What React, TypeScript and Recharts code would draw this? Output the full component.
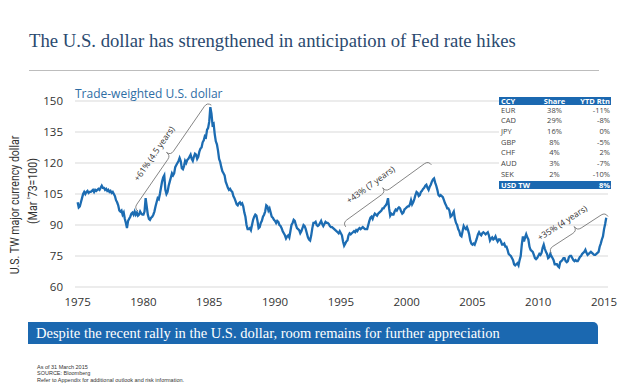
import { LineChart, Line, XAxis, YAxis, CartesianGrid, ReferenceLine } from "recharts";

// Trade-weighted U.S. dollar (major currencies, Mar '73 = 100), monthly from Jan 1975
const startYear = 1975;

const index1975to1984 = [
  101, 98.5, 99, 101, 103, 105, 106, 105, 106, 106.5, 105.5, 106,
  106, 106.5, 107, 106, 107, 106.5, 107, 107.5, 107, 108, 109, 108,
  108, 107, 107.5, 106.5, 107, 106, 106.5, 105.5, 106, 105, 104, 102,
  101, 99.5, 97, 96.5, 97, 95, 96, 93, 91, 88.5, 92, 93,
  94, 95.5, 96, 95, 96.5, 95, 96, 94.5, 95, 96.5, 95.5, 95,
  95, 96.5, 103, 99, 95, 93, 92.5, 93.5, 94, 95, 96.5, 99,
  101, 103, 102.5, 105, 108, 111, 113, 114, 107, 105, 106, 109,
  111, 113, 115, 114, 115, 118, 119, 120, 121, 122.5, 121, 117.5,
  117, 118.5, 121, 120, 121.5, 122, 123, 124, 122, 121, 123, 124.5,
  124, 122, 123, 125.5, 127, 127.5, 130, 131, 133, 132.5, 136, 137,
];

const index1985to1994 = [
  140, 147, 144, 138.5, 139, 134, 130.5, 129, 126, 122, 120.5, 118,
  116, 115, 114, 111, 109.5, 108, 107, 107.5, 106.5, 106, 104, 103,
  101.5, 100, 99.5, 100.5, 101, 100, 100.5, 99, 96, 94, 90, 88,
  88, 88.5, 87.5, 90, 92.5, 94, 95, 94.5, 92, 88.5, 89, 91,
  92, 94, 95, 96.5, 99.5, 99, 97, 98, 96, 94, 93.5, 92.5,
  92, 91, 92, 91.5, 90, 89.5, 88.5, 87, 86, 85, 83.5, 84.5,
  85, 84, 87, 90, 91, 92.5, 92, 90, 88.5, 88, 87.5, 86,
  87, 88.5, 90, 89.5, 88, 86, 84, 83, 82.5, 85, 88.5, 91,
  91, 91.5, 90, 89.5, 90, 91, 92, 90.5, 89.5, 90.5, 91.5, 91,
  91, 90.5, 89.5, 89, 89, 88.5, 88, 87.5, 87, 86.5, 86, 87,
];

const index1995to2004 = [
  86, 85, 82, 80, 81, 82, 82.5, 85, 86, 85.5, 86, 86.5,
  87, 86.5, 87.5, 87, 88, 88.5, 88, 88.5, 89, 88.5, 88, 88,
  88, 90, 92, 93.5, 94, 93, 94.5, 95.5, 95, 94.5, 95.5, 96,
  96.5, 97, 98, 98, 99, 99.5, 100.5, 103, 98, 94.5, 95.5, 95,
  95, 96.5, 97.5, 97, 98, 98.5, 98, 96.5, 95.5, 96, 97.5, 98,
  98.5, 99, 99, 100, 102, 100, 101, 102.5, 104.5, 106, 105.5, 104,
  104.5, 106, 106.5, 107.5, 108, 109, 109.5, 108, 107, 108.5, 109.5, 111,
  112, 112.5, 110.5, 109, 107, 104.5, 104, 104.5, 104, 103.5, 102, 100.5,
  99.5, 98, 98, 97, 94, 94.5, 95.5, 96.5, 93, 91, 90, 88,
  87, 85, 84.5, 87, 89.5, 88.5, 88, 89, 87.5, 85.5, 82.5, 81,
];

const index2005to2015 = [
  80.5, 81, 80.5, 82, 83.5, 85.5, 86.5, 85.5, 85, 86, 86.5, 86,
  85.5, 86, 86.5, 85, 82.5, 83.5, 84, 83, 83.5, 84.5, 83, 82,
  83, 83, 82, 80.5, 80.5, 81, 79.5, 79.5, 78, 76, 75.5, 75,
  74, 73, 71, 70.5, 71, 71.5, 70.5, 73, 75, 80.5, 84.5, 82,
  84, 85.5, 84, 83, 79.5, 78, 77.5, 77, 75.5, 74, 73.5, 74,
  75, 76, 75.5, 76.5, 79, 80.5, 78.5, 77, 76, 74, 74.5, 76,
  75, 74, 73, 71, 71, 71, 70, 69.5, 72, 72.5, 73, 74,
  74, 72.5, 72, 72.5, 74.5, 75, 75, 74, 73, 72.5, 73, 72.5,
  72.5, 73.5, 74.5, 75, 76, 76.5, 77, 78, 76.5, 75.5, 76, 76.5,
  77, 76.5, 76, 75.5, 75.5, 76, 76.5, 77, 79.5, 81, 83, 84.5,
  88, 90.5, 93.5,
];

const yearTicks = [1975, 1980, 1985, 1990, 1995, 2000, 2005, 2010, 2015];
const valueTicks = [60, 75, 90, 105, 120, 135, 150];

// rally annotations: [year, index] at each end of the brace
const braceStarts = [[1979.6, 96.7], [1995.37, 89.1], [2011.0, 76.3]];
const braceEnds = [[1985.16, 148], [2001.88, 119.1], [2015.3, 94.1]];
const braceLabels = ["+61% (4.5 years)", "+43% (7 years)", "+35% (4 years)"];

const tableCurrencies = ["EUR", "CAD", "JPY", "GBP", "CHF", "AUD", "SEK"];
const tableShares = ["38%", "29%", "16%", "8%", "4%", "3%", "2%"];
const tableYtd = ["-11%", "-8%", "0%", "-5%", "2%", "-7%", "-10%"];
const usdTwYtd = "8%";

const chartData = [...index1975to1984, ...index1985to1994, ...index1995to2004, ...index2005to2015].map(
  (v, i) => ({ year: startYear + i / 12, value: v })
);

const blue = "#1b68b0";
const sans = "'Open Sans', 'Noto Sans', sans-serif";
const serif = "'Liberation Serif', 'DejaVu Serif', serif";

function Brace(props: any) {
  const { x1, y1, x2, y2, text } = props;
  const dx = x2 - x1;
  const dy = y2 - y1;
  const len = Math.hypot(dx, dy);
  const ux = dx / len;
  const uy = dy / len;
  const nx = uy;
  const ny = -ux;
  const h = 5;
  const tip = 5;
  const m = len / 2;
  const pt = (a: number, c: number) => `${x1 + ux * a + nx * c},${y1 + uy * a + ny * c}`;
  const d =
    `M${pt(0, 0)} Q${pt(0, h)} ${pt(h, h)} L${pt(m - h, h)} Q${pt(m, h)} ${pt(m, h + tip)} ` +
    `Q${pt(m, h)} ${pt(m + h, h)} L${pt(len - h, h)} Q${pt(len, h)} ${pt(len, 0)}`;
  const angle = (Math.atan2(uy, ux) * 180) / Math.PI;
  const lx = x1 + ux * (m - 8) + nx * 20;
  const ly = y1 + uy * (m - 8) + ny * 20;
  return (
    <g>
      <path d={d} fill="none" stroke="#666" strokeWidth={0.8} />
      <text
        x={lx}
        y={ly}
        transform={`rotate(${angle} ${lx} ${ly})`}
        textAnchor="middle"
        dominantBaseline="central"
        fontSize={8.5}
        fontFamily={sans}
        fill="#333"
      >
        {text}
      </text>
    </g>
  );
}

function CurrencyTable() {
  const cell = { fontSize: 7.5, lineHeight: "10.7px", height: 10.7 };
  return (
    <div style={{ position: "absolute", left: 499, top: 96.5, width: 112, background: "#fff", fontFamily: sans }}>
      <div style={{ display: "flex", background: blue, color: "#fff", fontWeight: 700, fontSize: 7.5, height: 8, lineHeight: "8px" }}>
        <div style={{ width: 36, paddingLeft: 2 }}>CCY</div>
        <div style={{ width: 36, textAlign: "center" }}>Share</div>
        <div style={{ width: 38, textAlign: "right", paddingRight: 1 }}>YTD Rtn</div>
      </div>
      {tableCurrencies.map((c, i) => (
        <div key={c} style={{ display: "flex", color: "#444", ...cell }}>
          <div style={{ width: 36, paddingLeft: 2 }}>{c}</div>
          <div style={{ width: 36, textAlign: "center" }}>{tableShares[i]}</div>
          <div style={{ width: 38, textAlign: "right", paddingRight: 1 }}>{tableYtd[i]}</div>
        </div>
      ))}
      <div style={{ display: "flex", marginTop: 1.5, background: blue, color: "#fff", fontWeight: 700, fontSize: 7.5, height: 8, lineHeight: "8px" }}>
        <div style={{ width: 72, paddingLeft: 2 }}>USD TW</div>
        <div style={{ width: 38, textAlign: "right", paddingRight: 1 }}>{usdTwYtd}</div>
      </div>
    </div>
  );
}

export default function App() {
  return (
    <div style={{ position: "absolute", left: 0, top: 0, width: 628, height: 389, background: "#fff", overflow: "hidden" }}>
      <div style={{ position: "absolute", left: 29, top: 30, fontFamily: serif, fontSize: 18.7, lineHeight: "22px", color: "#2b4a6f", whiteSpace: "nowrap" }}>
        The U.S. dollar has strengthened in anticipation of Fed rate hikes
      </div>
      <div style={{ position: "absolute", left: 29, top: 70, width: 570, height: 1, background: "#bdbdbd" }} />

      <LineChart
        width={628}
        height={389}
        data={chartData}
        margin={{ top: 101, right: 20, bottom: 72, left: 0 }}
        style={{ position: "absolute", left: 0, top: 0 }}
      >
        <CartesianGrid vertical={false} stroke="#d9d9d9" strokeWidth={1.2} />
        <XAxis
          dataKey="year"
          type="number"
          domain={[1974.8, 2015.3]}
          ticks={yearTicks}
          interval={0}
          axisLine={false}
          tickLine={false}
          tickSize={0}
          tickMargin={11}
          height={30}
          tick={{ fill: "#333", fontSize: 11.5, fontFamily: sans }}
        />
        <YAxis
          domain={[60, 150]}
          ticks={valueTicks}
          interval={0}
          width={75}
          axisLine={false}
          tickLine={false}
          tickSize={0}
          tickMargin={12}
          tick={{ fill: "#333", fontSize: 11.5, fontFamily: sans }}
        />
        <Line
          type="linear"
          dataKey="value"
          stroke="#1c6cb2"
          strokeWidth={2.3}
          dot={false}
          isAnimationActive={false}
        />
        {braceLabels.map((label, i) => (
          <ReferenceLine
            key={label}
            segment={[
              { x: braceStarts[i][0], y: braceStarts[i][1] },
              { x: braceEnds[i][0], y: braceEnds[i][1] },
            ]}
            ifOverflow="visible"
            shape={(p: any) => <Brace {...p} text={label} />}
          />
        ))}
      </LineChart>

      <div style={{ position: "absolute", left: 75, top: 87, fontFamily: sans, fontSize: 12, lineHeight: "14px", color: "#2e6da4", whiteSpace: "nowrap" }}>
        Trade-weighted U.S. dollar
      </div>

      <div
        style={{
          position: "absolute", left: 15, top: 205, fontFamily: "Roboto, sans-serif", fontSize: 12, color: "#333",
          whiteSpace: "nowrap", transform: "translate(-50%, -50%) rotate(-90deg) scaleX(0.88)",
        }}
      >
        U.S. TW major currency dollar
      </div>
      <div
        style={{
          position: "absolute", left: 33, top: 191, fontFamily: "Roboto, sans-serif", fontSize: 12, color: "#333",
          whiteSpace: "nowrap", transform: "translate(-50%, -50%) rotate(-90deg) scaleX(0.88)",
        }}
      >
        (Mar '73=100)
      </div>

      <CurrencyTable />

      <div
        style={{
          position: "absolute", left: 28, top: 321.5, width: 570, height: 22, background: blue,
          borderTopRightRadius: 5, color: "#fff", fontFamily: serif, fontSize: 14.5, lineHeight: "22px",
          paddingLeft: 8, boxSizing: "border-box", whiteSpace: "nowrap",
        }}
      >
        Despite the recent rally in the U.S. dollar, room remains for further appreciation
      </div>

      <div style={{ position: "absolute", left: 37, top: 363.5, fontFamily: "'Liberation Sans', Arial, sans-serif", fontSize: 5.5, lineHeight: "6.6px", color: "#333" }}>
        <div>As of 31 March 2015</div>
        <div>SOURCE: Bloomberg</div>
        <div>Refer to Appendix for additional outlook and risk information.</div>
      </div>
    </div>
  );
}
